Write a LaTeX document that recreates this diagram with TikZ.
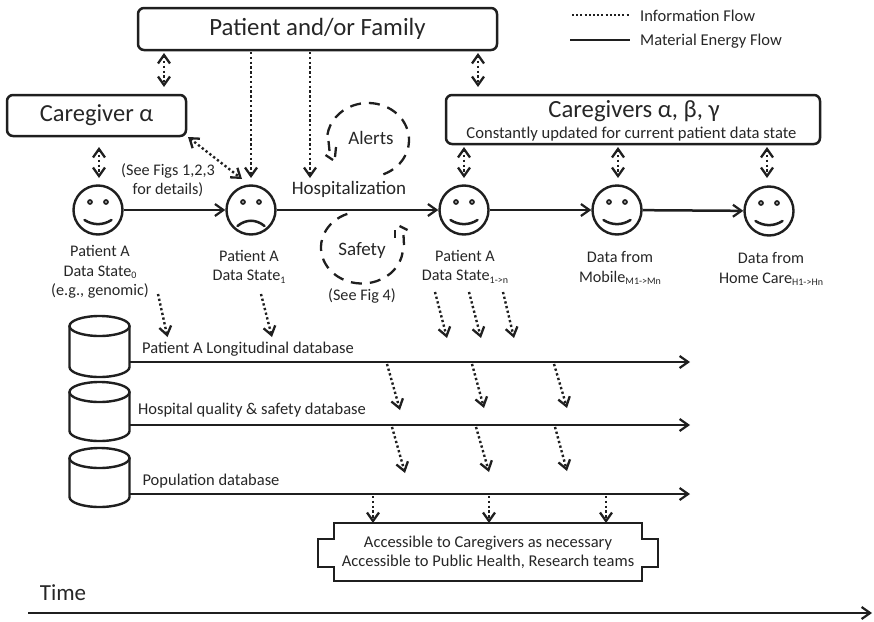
\documentclass[tikz,border=0pt]{standalone}
\usepackage{fontspec}
\setmainfont{Carlito}
\usetikzlibrary{arrows.meta}
\newcommand{\fsz}[1]{\fontsize{#1}{#1}\selectfont}
\newcommand{\lowtxt}[1]{\raisebox{-2.5pt}{\fsz{10}#1}}
\tikzset{
  x=1pt,y=-1pt,
  boxA/.style={draw=black!88,line width=2.5pt,rounded corners=6pt,inner sep=0pt},
  face/.style={circle,draw=black!88,line width=2.4pt,minimum size=49pt,inner sep=0pt},
  solidflow/.style={draw=black!88,line width=2.5pt,-{Straight Barb[length=8.5pt,width=12pt,line width=2.2pt]}},
  infoflow/.style={draw=black!88,line width=2.4pt,dash pattern=on 2.3pt off 2.5pt,-{Straight Barb[length=8.5pt,width=12pt,line width=2.3pt]}},
  infoboth/.style={draw=black!88,line width=2.4pt,dash pattern=on 2.3pt off 2.5pt,{Straight Barb[length=8.5pt,width=12pt,line width=2.3pt]}-{Straight Barb[length=8.5pt,width=12pt,line width=2.3pt]}},
  loopdash/.style={draw=black!88,line width=2.3pt,dash pattern=on 11pt off 8pt},
  tipstroke/.style={draw=black!88,line width=2.3pt},
  dbline/.style={draw=black!88,line width=2.4pt},
  lab/.style={text=black!85,align=center,inner sep=0pt,font=\fsz{16.2}},
  dblab/.style={text=black!85,inner sep=0pt,font=\fsz{16.5}},
}
\newcommand{\faceeyes}[1]{%
  \fill[black!88] ([shift={(-8pt,8pt)}]#1.center) circle (2.9pt);
  \fill[black!88] ([shift={(8pt,8pt)}]#1.center) circle (2.9pt);
  \fill[white] ([shift={(-8pt,8pt)}]#1.center) circle (0.9pt);
  \fill[white] ([shift={(8pt,8pt)}]#1.center) circle (0.9pt);
}
\newcommand{\happyface}[1]{%
  \faceeyes{#1}
  \draw[black!88,line width=2.5pt,line cap=round] ([shift={(-13.5pt,-10pt)}]#1.center) .. controls ([shift={(-5pt,-15.5pt)}]#1.center) and ([shift={(5pt,-15.5pt)}]#1.center) .. ([shift={(13.5pt,-10pt)}]#1.center);
}
\newcommand{\sadface}[1]{%
  \faceeyes{#1}
  \draw[black!88,line width=2.5pt,line cap=round] ([shift={(-13.5pt,-16pt)}]#1.center) .. controls ([shift={(-5pt,-9pt)}]#1.center) and ([shift={(5pt,-9pt)}]#1.center) .. ([shift={(13.5pt,-16pt)}]#1.center);
}
% #1 name, #2 x of centre, #3 y of top, #4 height of the sides
\newcommand{\dbcylinder}[4]{%
  \coordinate (#1) at (#2,#3);
  \draw[dbline] ([yshift=-10pt]#1) ellipse [x radius=30pt,y radius=10pt];
  \draw[dbline] ([shift={(-30pt,-10pt)}]#1) -- ++(0pt,-#4pt) arc [start angle=180,end angle=360,x radius=30pt,y radius=10pt] -- ++(0pt,#4pt);
}
\begin{document}
\begin{tikzpicture}
\useasboundingbox (0,0) rectangle (874,621);
% boxes
\node[boxA,minimum width=359pt,minimum height=42pt,font=\fsz{24.8},text=black!85] (patient) at (317.5,29) {Patient and/or Family};
\node[boxA,minimum width=179pt,minimum height=41pt,font=\fsz{24.5},text=black!85] (cga) at (96.5,115.5) {Caregiver α};
\node[boxA,minimum width=374pt,minimum height=49pt] (cgs) at (633,119.5) {};
\node[inner sep=0pt,font=\fsz{24.7},text=black!85] (cgst) at (634,111) {Caregivers α, β, γ};
\node[inner sep=0pt,font=\fsz{16.6},text=black!85] (cgsu) at (631.5,134) {Constantly updated for current patient data state};
% faces
\node[face] (f1) at (98,210) {};
\node[face] (f2) at (251,210) {};
\node[face] (f3) at (464,210) {};
\node[face] (f4) at (617,210) {};
\node[face] (f5) at (769,211) {};
\happyface{f1}\sadface{f2}\happyface{f3}\happyface{f4}\happyface{f5}
\draw[solidflow] (f1) -- (f2);
\draw[solidflow] (f2) -- (f3);
\draw[solidflow] (f3.east) -- (f4.west);
\draw[solidflow] (f4) -- (f5);
% labels under faces
\node[lab] (l1) at (100,272) {Patient A\\[3.5pt]Data State\lowtxt{0}\\[3.5pt](e.g., genomic)};
\node[lab] (l2) at (249,266.5) {Patient A\\[3.5pt]Data State\lowtxt{1}};
\node[lab] (l3) at (465,266.5) {Patient A\\[3.5pt]Data State\lowtxt{1->n}};
\node[lab] (l4) at (620,268) {Data from\\[3.5pt]Mobile\lowtxt{M1->Mn}};
\node[lab] (l5) at (771,269) {Data from\\[3.5pt]Home Care\lowtxt{H1->Hn}};
\node[lab] (sf) at (168,180.5) {(See Figs 1,2,3\\[3pt]for details)};
\node[lab,font=\fsz{19}] (hosp) at (349,189) {Hospitalization};
\node[lab,font=\fsz{19}] (alerts) at (371,138) {Alerts};
\node[lab,font=\fsz{19}] (safety) at (362,251) {Safety};
\node[lab] (sf4) at (362,295.5) {(See Fig 4)};
% loops
\coordinate (ca) at (368,140);
\coordinate (cs) at (362,247.5);
\draw[loopdash] (ca) ++(-68:41pt and 37pt) arc[start angle=-68,end angle=172,x radius=41pt,y radius=37pt];
\draw[tipstroke] (328.5,141) -- (329.5,151);
\draw[tipstroke] (336,147) -- (335,157);
\draw[tipstroke] (325.5,155) -- (333,160);
\draw[loopdash] (cs) ++(111:41pt and 36pt) arc[start angle=111,end angle=352,x radius=41pt,y radius=36pt];
\draw[tipstroke] (395,230) -- (395,238);
\draw[tipstroke] (403.5,235) -- (404,245);
\draw[tipstroke] (399.5,226) -- (407.5,230);
% top information arrows
\coordinate (a1) at (164,53); \coordinate (a2) at (164,87);
\draw[infoboth] (a1) -- (a2);
\coordinate (b1) at (99,147); \coordinate (b2) at (99,178);
\draw[infoboth] (b1) -- (b2);
\coordinate (c1) at (188,137); \coordinate (c2) at (242,179);
\draw[infoboth] (c1) -- (c2);
\coordinate (d1) at (251,52); \coordinate (d2) at (251,178);
\draw[infoflow] (d1) -- (d2);
\coordinate (e1) at (310,52); \coordinate (e2) at (310,178);
\draw[infoflow] (e1) -- (e2);
\coordinate (g1) at (478,53); \coordinate (g2) at (478,87);
\draw[infoboth] (g1) -- (g2);
\coordinate (h1) at (464,147); \coordinate (h2) at (464,178);
\draw[infoboth] (h1) -- (h2);
\coordinate (i1) at (618,147); \coordinate (i2) at (618,178);
\draw[infoboth] (i1) -- (i2);
\coordinate (j1) at (767,147); \coordinate (j2) at (767,178);
\draw[infoboth] (j1) -- (j2);
% legend
\coordinate (lg1) at (572,15); \coordinate (lg2) at (630,15);
\coordinate (lg3) at (570,40); \coordinate (lg4) at (630,40);
\draw[draw=black!88,line width=2.2pt,dash pattern=on 2pt off 2.2pt] (lg1) -- (lg2);
\draw[draw=black!88,line width=2.5pt] (lg3) -- (lg4);
\node[dblab,anchor=west] (lgt1) at (640,16) {Information Flow};
\node[dblab,anchor=west] (lgt2) at (640,41) {Material Energy Flow};
% databases
\dbcylinder{db1}{99.5}{316}{41}
\dbcylinder{db2}{99.5}{382}{39}
\dbcylinder{db3}{99.5}{448}{39}
\coordinate (s1x) at (129,362); \coordinate (s2x) at (129,425); \coordinate (s3x) at (129,494);
\coordinate (e1x) at (690,362); \coordinate (e2x) at (690,425); \coordinate (e3x) at (690,494);
\draw[solidflow] (s1x) -- (e1x);
\draw[solidflow] (s2x) -- (e2x);
\draw[solidflow] (s3x) -- (e3x);
\node[dblab] (t1) at (248,349) {Patient A Longitudinal database};
\node[dblab] (t2) at (252,410.5) {Hospital quality \& safety database};
\node[dblab] (t3) at (211,481) {Population database};
% slanted arrows to DB
\foreach \xa/\ya/\xb/\yb in {158/294/167.5/337, 261/294/272/337, 435/292/447/338, 469/292/481/338, 503/292/514/338,
  387/364/400/410, 472/364/484/408, 554/364/567/408,
  392/427/405/473, 476/427/489/472, 555/427/567/471,
  373/496/373/523, 489/496/489/523, 606/496/606/523}
  \draw[infoflow] (\xa,\ya) -- (\xb,\yb);
% accessible plaque
\node[lab,font=\fsz{16.5},minimum width=308pt,minimum height=58pt] (acc) at (488,552) {Accessible to Caregivers as necessary\\[2.5pt]Accessible to Public Health, Research teams};
\draw[draw=black!88,line width=2.5pt] (acc.north west) -- (acc.north east) -- ++(0,16) -- ++(16,0) -- ++(0,28) -- ++(-16,0) -- (acc.south east) -- (acc.south west) -- ++(0,-14) -- ++(-16,0) -- ++(0,-28) -- ++(16,0) -- cycle;
% time
\node[dblab,font=\fsz{23}] (time) at (63,593) {Time};
\coordinate (t0) at (28,613); \coordinate (t9) at (872,613);
\draw[solidflow] (t0) -- (t9);
\end{tikzpicture}
\end{document}
